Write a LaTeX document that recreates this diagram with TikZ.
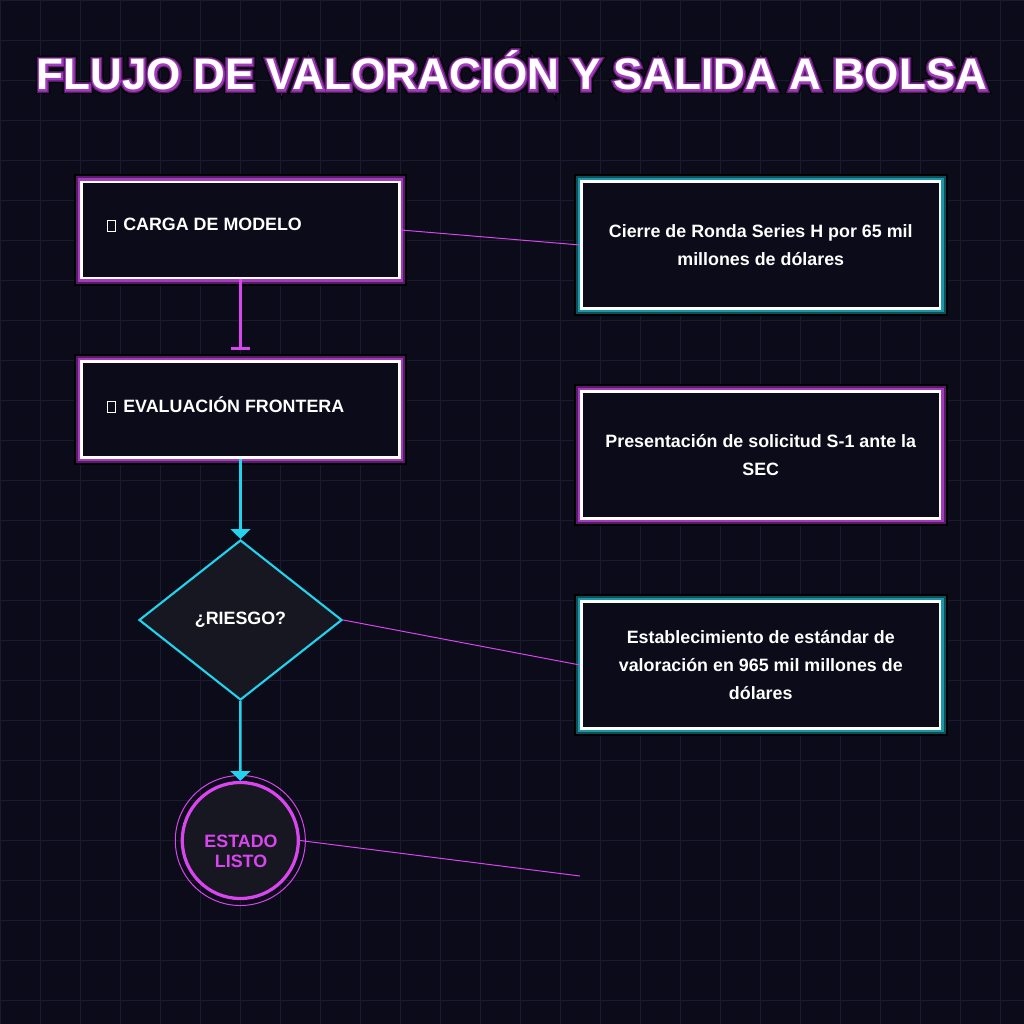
\documentclass[tikz,border=0pt]{standalone}
\usepackage{fontspec}
\setmainfont{Liberation Sans}
\newfontfamily\titleshadefont{Liberation Sans Bold}[FakeBold=18]
\newfontfamily\titleedgefont{Liberation Sans Bold}[FakeBold=13]
\newfontfamily\titleglowfont{Liberation Sans Bold}[FakeBold=7]
\usetikzlibrary{shapes.geometric,arrows.meta}
\definecolor{bgdark}{HTML}{0B0B1A}
\definecolor{gridcol}{HTML}{1B1B2F}
\definecolor{panelfill}{HTML}{171722}
\definecolor{magline}{HTML}{D946EF}
\definecolor{cyanline}{HTML}{22D3EE}
\definecolor{purpdark}{HTML}{5A1A6C}
\definecolor{purpglow}{HTML}{A23CBC}
\definecolor{tealdark}{HTML}{0E4F5A}
\definecolor{tealglow}{HTML}{1A97A8}
\newcommand\tofu{{\setlength\fboxsep{0pt}\setlength\fboxrule{0.7pt}\fbox{\rule{0pt}{7.2pt}\hspace{5pt}}}}
\newcommand\boxfont{\fontsize{12.7}{19.8}\selectfont\bfseries}
\newcommand\titlestr{FLUJO DE VALORACIÓN Y SALIDA A BOLSA}
\begin{document}
\begin{tikzpicture}[x=0.025cm, y=-0.025cm, >=Stealth,
    gridline/.style={draw=gridcol, line width=0.7pt},
    titletext/.style={anchor=base},
    panel/.style 2 args={rectangle, draw=white, line width=2.1pt, fill=bgdark, inner sep=0pt,
        preaction={draw=black, line width=11pt},
        preaction={draw=#1, line width=8pt},
        preaction={draw=#2, line width=5.4pt}},
    stepbox/.style={panel={purpdark}{purpglow}, minimum width=7.95cm, minimum height=2.4cm},
    notebox/.style 2 args={panel={#1}{#2}, minimum width=8.96cm, minimum height=3.175cm,
        text=white, font=\boxfont, align=center},
    labeltext/.style={text=white, font=\boxfont, inner sep=0pt},
    decision/.style={diamond, draw=cyanline, line width=1.5pt, fill=panelfill, inner sep=0pt,
        minimum width=5.075cm, minimum height=4cm, text=white, font=\boxfont},
    flowarrow/.style={draw=cyanline, line width=1.8pt, -{Triangle[width=14pt,length=7pt]}},
    thinlink/.style={draw=magline, line width=0.7pt}]
\useasboundingbox (0,0) rectangle (1024,1024);
\fill[bgdark] (0,0) rectangle (1024,1024);
\foreach \g in {0,40,...,1000}{
    \draw[gridline] (\g,0)--(\g,1024);
    \draw[gridline] (0,\g)--(1024,\g);
}

% title with outline
\node[titletext, text=black, font=\titleshadefont\fontsize{31.3}{36}\selectfont] (titleshade) at (512,90) {\titlestr};
\node[titletext, text=purpdark, font=\titleedgefont\fontsize{31.3}{36}\selectfont] (titleedge) at (512,90) {\titlestr};
\node[titletext, text=purpglow, font=\titleglowfont\fontsize{31.3}{36}\selectfont] (titleglow) at (512,90) {\titlestr};
\node[titletext, text=white, font=\fontsize{31.3}{36}\selectfont\bfseries] (title) at (512,90) {\titlestr};

% left column
\node[stepbox] (carga) at (240.5,230) {};
\node[labeltext, anchor=base west] (cargatxt) at (107,231) {\tofu\hspace{5pt}CARGA DE MODELO};
\node[stepbox] (evalua) at (240.5,409.5) {};
\node[labeltext, anchor=base west] (evaluatxt) at (107,412) {\tofu\hspace{5pt}EVALUACIÓN FRONTERA};
\node[decision] (riesgo) at (240.5,620) {¿RIESGO?};
\node[circle, draw=magline, line width=0.7pt, minimum size=3.25cm, inner sep=0pt] (listoring) at (240.3,840.5) {};
\node[circle, draw=magline, line width=2.3pt, fill=panelfill, minimum size=2.9cm, inner sep=0pt] (listo) at (240.3,840.5) {};
\node[text=magline, font=\fontsize{12.7}{14.2}\selectfont\bfseries, align=center, inner sep=0pt] (listotxt) at (241,851) {ESTADO\\LISTO};

% right column
\node[notebox={tealdark}{tealglow}] (ronda) at (760.75,245) {Cierre de Ronda Series H por 65 mil\\millones de dólares};
\node[notebox={purpdark}{purpglow}] (solicitud) at (760.75,455) {Presentación de solicitud S-1 ante la\\SEC};
\node[notebox={tealdark}{tealglow}] (valor) at (760.75,665) {Establecimiento de estándar de\\valoración en 965 mil millones de\\dólares};
\coordinate (fin) at (580,876);

% connectors
\draw[magline, line width=1.8pt, -{Bar[width=14pt]}, shorten >=7.4pt] (carga) -- (evalua);
\draw[flowarrow] (evalua) -- (riesgo);
\draw[flowarrow] (riesgo) -- (listo);
\draw[thinlink] (carga.east) -- (ronda.west);
\draw[thinlink] (riesgo.east) -- (valor.west);
\draw[thinlink] (listo.east) -- (fin);
\end{tikzpicture}
\end{document}
